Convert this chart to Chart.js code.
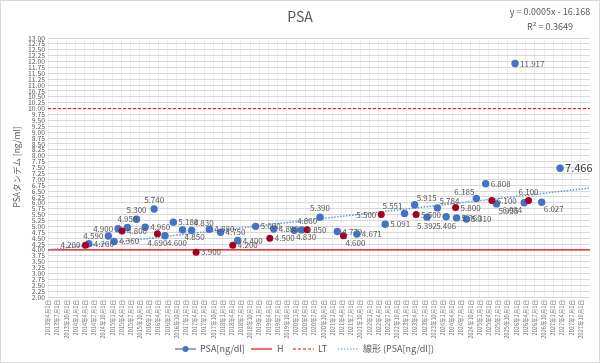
<!DOCTYPE html>
<html>
<head>
<meta charset="utf-8">
<script src="https://cdn.jsdelivr.net/npm/chart.js@4.4.0/dist/chart.umd.min.js"></script>
<style>
html, body { margin: 0; padding: 0; background: #fff; }
#wrap { width: 600px; height: 363px; position: relative; }
</style>
</head>
<body>
<div id="wrap"><canvas id="PsaChart" width="600" height="363"></canvas></div>
<script>
// PSA[ng/dl] (blue markers)
var psaDates = [
    '2014-05-12', '2014-11-22', '2015-01-18', '2015-02-27', '2015-05-30', '2015-08-29',
    '2015-11-23', '2016-02-20', '2016-06-07', '2016-08-29', '2016-11-29', '2017-02-27',
    '2017-08-22', '2017-12-11', '2018-06-01', '2018-11-25', '2019-05-24', '2019-12-13',
    '2020-02-24', '2020-08-26', '2021-02-14', '2021-08-27', '2022-06-05', '2022-12-14',
    '2023-03-25', '2023-07-26', '2023-11-06', '2024-02-01', '2024-05-15', '2024-08-20',
    '2024-11-27', '2025-02-28', '2025-06-15', '2025-12-17', '2026-03-18', '2026-09-08',
    '2027-03-09'
];
var psaValues = [
    4.260, 4.590, 4.360, 4.900, 4.950, 5.300,
    4.960, 5.740, 4.600, 5.180, 4.850, 4.830,
    4.880, 4.750, 4.400, 5.000, 4.890, 4.830,
    4.850, 5.390, 4.779, 4.671, 5.091, 5.551,
    5.915, 5.392, 5.784, 5.406, 5.360, 5.310,
    6.185, 6.808, 5.955, 11.917, 6.004, 6.027,
    7.466
];

// yearly check values (dark red markers)
var markDates = [
    '2014-04-08', '2015-04-07', '2016-03-24', '2017-04-12', '2018-04-12', '2019-04-15',
    '2020-04-20', '2021-04-16', '2022-04-27', '2023-04-08', '2024-05-05', '2025-04-30',
    '2026-04-30'
];
var markValues = [
    4.200, 4.800, 4.690, 3.900, 4.200, 4.500,
    4.860, 4.600, 5.500, 5.500, 5.800, 6.100,
    6.100
];

var limitH = 4.0;
var limitLT = 10.0;

// Excel trendline (x = date serial)
var trendSlope = 0.0004876;
var trendIntercept = -16.168;
var trendText = ['y = 0.0005x - 16.168', 'R\u00b2 = 0.3649'];

var axisStart = '2013-04-01';
var axisEnd = '2028-01-01';
var yMin = 2, yMax = 13, yStep = 0.25;

// where each value label sits (default right)
var psaLabelSide = { 1: 'l', 3: 'l', 4: 't', 5: 't', 7: 't', 8: 'br', 10: 'br', 11: 'tr', 17: 'br', 19: 't', 23: 'tl', 24: 'tr', 25: 'b', 26: 'tr', 27: 'b', 30: 'tl', 32: 'br', 34: 'bl', 35: 'br' };
var markLabelSide = { 0: 'l', 2: 'b', 6: 't', 7: 'br', 8: 'l', 12: 't' };

var FONT = "'Noto Sans CJK JP', 'Noto Sans', sans-serif";
var TXT = '#595959';

function serial(s) {
    var p = s.split('-');
    return Date.UTC(+p[0], +p[1] - 1, +p[2]) / 86400000 + 25569;
}

function quarterTicks() {
    var out = [];
    var p = axisStart.split('-');
    var y = +p[0], m = +p[1];
    var end = serial(axisEnd);
    while (true) {
        var v = Date.UTC(y, m - 1, 1) / 86400000 + 25569;
        if (v >= end) break;
        out.push({ value: v });
        m += 3;
        if (m > 12) { m -= 12; y++; }
    }
    return out;
}

function serialLabel(v) {
    var d = new Date((v - 25569) * 86400000);
    return d.getUTCFullYear() + '年' + (d.getUTCMonth() + 1) + '月' + d.getUTCDate() + '日';
}

function points(dates, values) {
    return dates.map(function (d, i) { return { x: serial(d), y: values[i] }; });
}

var xMin = serial(axisStart), xMax = serial(axisEnd);

var labelPlugin = {
    id: 'valueLabels',
    afterDatasetsDraw: function (chart) {
        var ctx = chart.ctx;
        ctx.save();
        [[0, psaValues, psaLabelSide], [1, markValues, markLabelSide]].forEach(function (set) {
            var meta = chart.getDatasetMeta(set[0]);
            meta.data.forEach(function (pt, i) {
                var side = set[2][i] || 'r';
                var big = set[0] === 0 && i === psaValues.length - 1;
                ctx.font = (big ? 11 : 8) + 'px ' + FONT;
                ctx.fillStyle = big ? '#404040' : TXT;
                var x = pt.x, y = pt.y;
                ctx.textAlign = 'left'; ctx.textBaseline = 'middle';
                if (side === 'r') { x += 5; }
                if (side === 'l') { x -= 5; ctx.textAlign = 'right'; }
                if (side === 't') { y -= 5; ctx.textAlign = 'center'; ctx.textBaseline = 'bottom'; }
                if (side === 'b') { y += 5; ctx.textAlign = 'center'; ctx.textBaseline = 'top'; }
                if (side === 'tr') { x += 2; y -= 3; ctx.textBaseline = 'bottom'; }
                if (side === 'br') { x += 2; y += 3; ctx.textBaseline = 'top'; }
                if (side === 'tl') { x -= 2; y -= 3; ctx.textAlign = 'right'; ctx.textBaseline = 'bottom'; }
                if (side === 'bl') { x -= 2; y += 3; ctx.textAlign = 'right'; ctx.textBaseline = 'top'; }
                ctx.fillText(set[1][i].toFixed(3), x, y);
            });
        });
        ctx.restore();
    }
};

var decorPlugin = {
    id: 'decor',
    beforeDraw: function (chart) {
        var ctx = chart.ctx;
        ctx.save();
        ctx.fillStyle = '#fff';
        ctx.fillRect(0, 0, chart.width, chart.height);
        ctx.strokeStyle = '#D9D9D9';
        ctx.lineWidth = 1;
        ctx.strokeRect(0.5, 0.5, chart.width - 1, chart.height - 1);
        ctx.restore();
    },
    afterDraw: function (chart) {
        var ctx = chart.ctx;
        ctx.save();
        // title
        ctx.fillStyle = TXT;
        ctx.font = '14px ' + FONT;
        ctx.textAlign = 'center';
        ctx.textBaseline = 'middle';
        ctx.fillText('PSA', 300, 17);
        // trend equation
        ctx.font = '9px ' + FONT;
        ctx.fillText(trendText[0], 550, 12);
        ctx.fillText(trendText[1], 550, 27);
        // y title
        ctx.translate(17, 167);
        ctx.rotate(-Math.PI / 2);
        ctx.font = '8.5px ' + FONT;
        ctx.fillText('PSAタンデム [ng/ml]', 0, 0);
        ctx.restore();

        // legend
        ctx.save();
        var ly = 349;
        ctx.lineWidth = 1.2;
        ctx.strokeStyle = '#4472C4';
        ctx.beginPath(); ctx.moveTo(175, ly); ctx.lineTo(196, ly); ctx.stroke();
        ctx.fillStyle = '#4472C4';
        ctx.beginPath(); ctx.arc(185.5, ly, 3, 0, Math.PI * 2); ctx.fill();
        ctx.strokeStyle = '#FF0000';
        ctx.beginPath(); ctx.moveTo(251, ly); ctx.lineTo(272, ly); ctx.stroke();
        ctx.setLineDash([3, 2]);
        ctx.beginPath(); ctx.moveTo(293, ly); ctx.lineTo(314, ly); ctx.stroke();
        ctx.strokeStyle = '#5B9BD5';
        ctx.setLineDash([1.5, 1.5]);
        ctx.beginPath(); ctx.moveTo(338, ly); ctx.lineTo(359, ly); ctx.stroke();
        ctx.setLineDash([]);
        ctx.fillStyle = TXT;
        ctx.font = '9px ' + FONT;
        ctx.textAlign = 'left';
        ctx.textBaseline = 'middle';
        ctx.fillText('PSA[ng/dl]', 200, ly);
        ctx.fillText('H', 277, ly);
        ctx.fillText('LT', 318, ly);
        ctx.fillText('線形 (PSA[ng/dl])', 363, ly);
        ctx.restore();
    }
};

var PsaChart = new Chart(
    document.getElementById('PsaChart'), {
    type: 'scatter',
    data: {
        datasets: [{
            label: 'PSA[ng/dl]',
            data: points(psaDates, psaValues),
            backgroundColor: '#4472C4',
            borderColor: '#4472C4',
            pointRadius: 3.7,
            pointBorderWidth: 0,
            showLine: false,
            order: 2
        }, {
            label: 'mark',
            data: points(markDates, markValues),
            backgroundColor: '#A50021',
            borderColor: '#A50021',
            pointRadius: 3.5,
            pointBorderWidth: 0,
            showLine: false,
            order: 1
        }, {
            label: 'H',
            data: [{ x: xMin, y: limitH }, { x: xMax, y: limitH }],
            borderColor: '#FF0000',
            borderWidth: 1.2,
            pointRadius: 0,
            showLine: true,
            order: 4
        }, {
            label: 'LT',
            data: [{ x: xMin, y: limitLT }, { x: xMax, y: limitLT }],
            borderColor: '#FF0000',
            borderWidth: 1,
            borderDash: [3, 2],
            pointRadius: 0,
            showLine: true,
            order: 4
        }, {
            label: '線形 (PSA[ng/dl])',
            data: [
                { x: xMin, y: trendSlope * xMin + trendIntercept },
                { x: xMax, y: trendSlope * xMax + trendIntercept }
            ],
            borderColor: '#5B9BD5',
            borderWidth: 1.5,
            borderDash: [1.5, 1.5],
            pointRadius: 0,
            showLine: true,
            order: 3
        }]
    },
    options: {
        responsive: false,
        animation: false,
        devicePixelRatio: 1,
        layout: { padding: { left: 0, right: 10, top: 38, bottom: 0 } },
        plugins: {
            legend: { display: false },
            tooltip: { enabled: false }
        },
        scales: {
            x: {
                type: 'linear',
                min: xMin,
                max: xMax,
                afterBuildTicks: function (scale) { scale.ticks = quarterTicks(); },
                afterFit: function (scale) { scale.height = 66; },
                ticks: {
                    autoSkip: false,
                    minRotation: 90,
                    maxRotation: 90,
                    padding: 3,
                    color: '#6f6f6f',
                    font: { family: FONT, size: 5.6 },
                    callback: function (value) { return serialLabel(value); }
                },
                grid: { color: '#EDEDED', drawTicks: false },
                border: { display: false }
            },
            y: {
                min: yMin,
                max: yMax,
                afterFit: function (scale) { scale.width = 48; },
                ticks: {
                    stepSize: yStep,
                    autoSkip: false,
                    padding: 3,
                    color: TXT,
                    font: { family: FONT, size: 6.8 },
                    callback: function (value) { return value.toFixed(2); }
                },
                grid: { color: '#D9D9D9', drawTicks: false },
                border: { display: false }
            }
        }
    },
    plugins: [decorPlugin, labelPlugin]
});
</script>
</body>
</html>
